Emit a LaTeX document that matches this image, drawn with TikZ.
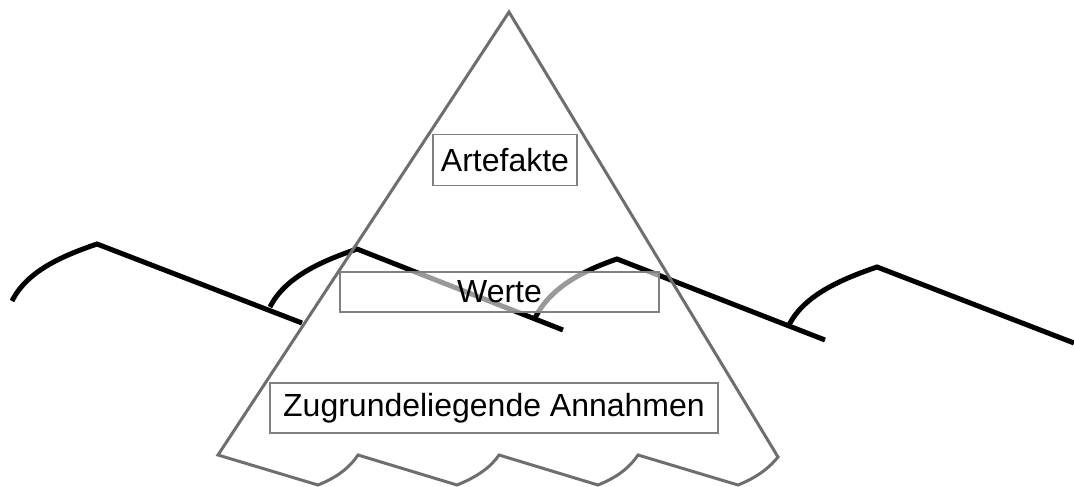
\documentclass[tikz,border=0pt]{standalone}
\usepackage{fontspec}
\setmainfont{Liberation Sans}
\definecolor{tricol}{RGB}{110,110,110}
\definecolor{boxcol}{RGB}{128,128,128}
\begin{document}
\begin{tikzpicture}[x=1pt,y=-1pt,
  wave/.style={draw=black,line width=5pt},
  tri/.style={draw=tricol,line width=3pt,line join=miter},
  lbl/.style={draw=boxcol,line width=1.5pt,fill=white,fill opacity=0.6,text opacity=1,
    inner sep=0pt,font=\fontsize{32}{38}\selectfont}]
\useasboundingbox (0,0) rectangle (1074,487);
% waves
\draw[wave] (12,301) .. controls (27,271) and (62,256) .. (97,244) -- (302,323);
\draw[wave] (270,307) .. controls (285,277) and (322,261) .. (357,249) -- (563,330);
\draw[wave] (535,318) .. controls (550,288) and (582,271) .. (617,259) -- (825,340);
\draw[wave] (789,325) .. controls (804,295) and (842,279) .. (877,267) -- (1074,343);
% iceberg
\draw[tri] (509,12) -- (218,455) -- (318,485)
  .. controls (338,477) and (350,467) .. (358,455) -- (457,485)
  .. controls (477,477) and (491,467) .. (499,455) -- (598,485)
  .. controls (618,477) and (630,467) .. (638,455) -- (738,485)
  .. controls (758,477) and (770,467) .. (778,457) -- cycle;
% labels
\node[lbl,minimum width=144pt,minimum height=51pt] (art) at (505,160) {Artefakte};
\node[lbl,minimum width=319pt,minimum height=40pt] (wer) at (499.5,292) {Werte};
\node[lbl,minimum width=448pt,minimum height=50pt] (zug) at (494,408) {Zugrundeliegende Annahmen};
\end{tikzpicture}
\end{document}
